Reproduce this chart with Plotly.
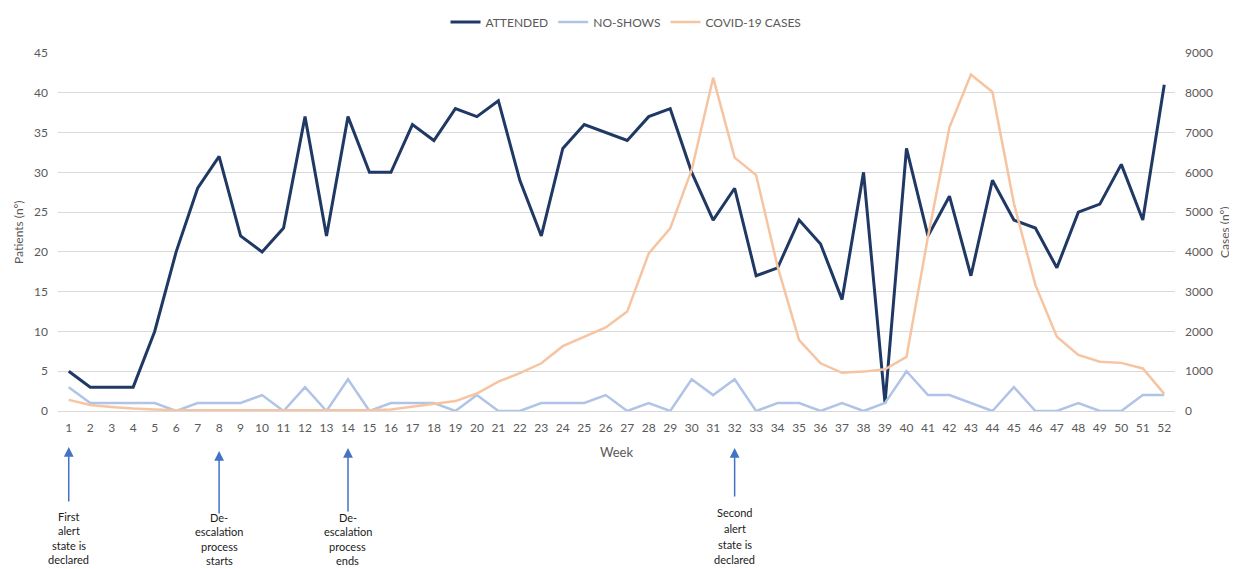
import plotly.graph_objects as go

weeks = list(range(1, 53))
attended = [5, 3, 3, 3, 10, 20, 28, 32, 22, 20,
            23, 37, 22, 37, 30, 30, 36, 34, 38, 37,
            39, 29, 22, 33, 36, 35, 34, 37, 38, 30,
            24, 28, 17, 18, 24, 21, 14, 30, 1, 33,
            22, 27, 17, 29, 24, 23, 18, 25, 26, 31, 24, 41]
no_shows = [3, 1, 1, 1, 1, 0, 1, 1, 1, 2,
            0, 3, 0, 4, 0, 1, 1, 1, 0, 2,
            0, 0, 1, 1, 1, 2, 0, 1, 0, 4,
            2, 4, 0, 1, 1, 0, 1, 0, 1, 5,
            2, 2, 1, 0, 3, 0, 0, 1, 0, 0, 2, 2]
covid_cases = [280, 150, 100, 60, 40, 20, 20, 20, 10, 20,
               20, 20, 20, 20, 20, 40, 110, 190, 250, 440,
               740, 950, 1200, 1630, 1870, 2100, 2500, 3960, 4590, 6060,
               8380, 6370, 5930, 3630, 1780, 1200, 960, 990, 1050, 1360,
               4380, 7130, 8460, 8020, 5220, 3170, 1870, 1410, 1240, 1210, 1070, 430]

event_weeks = [1, 8, 14, 32]
event_labels = [
    ["First", "alert", "state is", "declared"],
    ["De-", "escalation", "process", "starts"],
    ["De-", "escalation", "process", "ends"],
    ["Second", "alert", "state is", "declared"],
]

# the page body adds an 8px offset; work in screen pixels and convert
OFF = 8
SCREEN_W, SCREEN_H = 1237, 569
W, H = SCREEN_W - OFF, SCREEN_H - OFF
PLOT_L, PLOT_R, PLOT_T, PLOT_B = 58, 1175, 53, 411  # screen pixels
ML = PLOT_L - OFF
MT = PLOT_T - OFF
MR = W - (PLOT_R - OFF)
MB = H - (PLOT_B - OFF)
PH = PLOT_B - PLOT_T
PW = PLOT_R - PLOT_L


def py(pix):
    """screen pixel row -> paper y"""
    return (PLOT_B - pix) / PH


def px(pix):
    return (pix - PLOT_L) / PW


GRAY = "#595959"
FONT = "Lato"

fig = go.Figure()
fig.add_trace(go.Scatter(x=weeks, y=attended, name="ATTENDED", mode="lines",
                         line=dict(color="#1F3864", width=3)))
fig.add_trace(go.Scatter(x=weeks, y=no_shows, name="NO-SHOWS", mode="lines",
                         line=dict(color="#B0C4E8", width=2.5)))
fig.add_trace(go.Scatter(x=weeks, y=covid_cases, name="COVID-19 CASES", mode="lines",
                         line=dict(color="#F7C4A2", width=2.5), yaxis="y2"))

annotations = []
# arrow geometry per event: (head row, tail row, first text line row, line step) in screen px
arrow_geo = [(447, 503, 516, 14.6), (451, 515, 517, 14.6), (448, 513, 517, 14.6),
             (448, 498, 513, 15.5)]
for wk, lines, (head, tail, top, step) in zip(event_weeks, event_labels, arrow_geo):
    annotations.append(dict(x=wk, y=py(head), xref="x", yref="paper", text="",
                            showarrow=True, arrowhead=2, arrowsize=1.3, arrowwidth=1.5,
                            arrowcolor="#4472C4", ax=0, ay=tail - head, standoff=0))
    for i, ln in enumerate(lines):
        annotations.append(dict(x=wk, y=py(top + i * step), xref="x", yref="paper",
                                text=ln, showarrow=False, xanchor="center", yanchor="middle",
                                font=dict(family=FONT, size=11, color="#1a1a1a")))

annotations.append(dict(x=px(18), y=0.5, xref="paper", yref="paper", text="Patients (nº)",
                        textangle=-90, showarrow=False, xanchor="center", yanchor="middle",
                        font=dict(family=FONT, size=12, color=GRAY)))
annotations.append(dict(x=px(1224), y=0.5, xref="paper", yref="paper", text="Cases (nº)",
                        textangle=-90, showarrow=False, xanchor="center", yanchor="middle",
                        font=dict(family=FONT, size=12, color=GRAY)))
annotations.append(dict(x=0.5, y=py(452), xref="paper", yref="paper", text="Week",
                        showarrow=False, xanchor="center", yanchor="middle",
                        font=dict(family=FONT, size=13, color=GRAY)))

fig.update_layout(
    width=W, height=H,
    margin=dict(l=ML, r=MR, t=MT, b=MB, autoexpand=False),
    paper_bgcolor="white", plot_bgcolor="white",
    font=dict(family=FONT, size=12, color=GRAY),
    showlegend=True,
    legend=dict(orientation="h", x=px(626), xanchor="center", y=py(22), yanchor="middle",
                font=dict(family=FONT, size=12, color=GRAY), itemwidth=30,
                bgcolor="rgba(0,0,0,0)"),
    xaxis=dict(range=[0.5, 52.5], tickmode="array", tickvals=weeks,
               ticktext=[str(w) for w in weeks], showgrid=False, zeroline=False,
               showline=False, ticks="", ticklabelstandoff=8,
               tickfont=dict(family=FONT, size=12, color=GRAY)),
    yaxis=dict(range=[0, 45], dtick=5, showgrid=True, gridcolor="#D9D9D9", gridwidth=1,
               zeroline=True, zerolinecolor="#D9D9D9", zerolinewidth=1,
               showline=False, ticks="", ticklabelstandoff=9,
               tickfont=dict(family=FONT, size=12, color=GRAY)),
    yaxis2=dict(range=[0, 9000], dtick=1000, overlaying="y", side="right",
                showgrid=False, zeroline=False, showline=False, ticks="",
                ticklabelstandoff=9, tickfont=dict(family=FONT, size=12, color=GRAY)),
    annotations=annotations,
)

fig.write_html("out.html")
